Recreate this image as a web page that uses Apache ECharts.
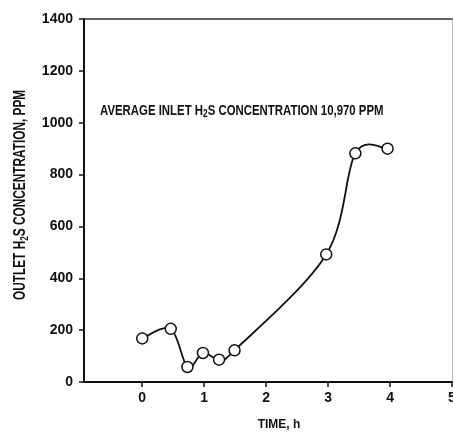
<!DOCTYPE html>
<html>
<head>
<meta charset="utf-8">
<script src="https://cdn.jsdelivr.net/npm/echarts@6/dist/echarts.min.js"></script>
<style>
html,body{margin:0;padding:0;background:#fff;}
#c{width:453px;height:432px;}
</style>
</head>
<body>
<div id="c"></div>
<script>
// Data
var timeH = [0, 0.46, 0.73, 0.98, 1.24, 1.49, 2.97, 3.44, 3.96];
var outletPPM = [168, 205, 58, 112, 86, 122, 492, 882, 900];
var xTicks = [0, 1, 2, 3, 4, 5];
var yTicks = [0, 200, 400, 600, 800, 1000, 1200, 1400];
var yTitle = 'OUTLET H{sub|2}S CONCENTRATION, PPM';
var xTitle = 'TIME, h';
var note = 'AVERAGE INLET H{sub|2}S CONCENTRATION 10,970 PPM';

var FONT = '"Liberation Sans","Arial",sans-serif';
var chart = echarts.init(document.getElementById('c'), null, {renderer: 'canvas'});
var points = timeH.map(function (t, i) { return [t, outletPPM[i]]; });
var subRich = {sub: {fontFamily: FONT, fontSize: 11, fontWeight: 'bold', fill: '#111', color: '#111', padding: [7, 0, 0, 0]}};

// Smooth curve through the data points (Catmull-Rom in pixel space, via the axes' scales)
function renderSegment(params, api) {
  var i = params.dataIndex;
  var n = points.length;
  if (i >= n - 1) return null;
  function c(j) { j = Math.max(0, Math.min(n - 1, j)); return api.coord(points[j]); }
  var p0 = c(i - 1), p1 = c(i), p2 = c(i + 1), p3 = c(i + 2);
  return {
    type: 'bezierCurve',
    shape: {
      x1: p1[0], y1: p1[1], x2: p2[0], y2: p2[1],
      cpx1: p1[0] + (p2[0] - p0[0]) / 6, cpy1: p1[1] + (p2[1] - p0[1]) / 6,
      cpx2: p2[0] - (p3[0] - p1[0]) / 6, cpy2: p2[1] - (p3[1] - p1[1]) / 6
    },
    style: {stroke: '#111', lineWidth: 1.8, fill: null}
  };
}

chart.setOption({
  animation: false,
  backgroundColor: '#fff',
  grid: {left: 84, right: 1, top: 19, bottom: 50, outerBoundsMode: 'none', containLabel: false},
  xAxis: [{
    type: 'value', min: -0.94, max: 5,
    splitLine: {show: false},
    axisLine: {show: true, onZero: false, lineStyle: {color: '#111', width: 2}},
    axisTick: {show: true, inside: false, length: 5, customValues: xTicks, lineStyle: {color: '#111', width: 1.5}},
    axisLabel: {customValues: xTicks, margin: 9, color: '#111', fontFamily: FONT, fontSize: 14, fontWeight: 'bold'},
    name: xTitle, nameLocation: 'middle', nameGap: 37,
    nameTextStyle: {color: '#111', fontFamily: FONT, fontSize: 12, fontWeight: 'bold', padding: [0, 0, 0, 22]}
  }, {
    type: 'value', position: 'top', min: -0.94, max: 5,
    splitLine: {show: false}, axisTick: {show: false}, axisLabel: {show: false},
    axisLine: {show: true, onZero: false, lineStyle: {color: '#333', width: 1.5}}
  }],
  yAxis: [{
    type: 'value', min: 0, max: 1400, interval: 200,
    splitLine: {show: false},
    axisLine: {show: true, onZero: false, lineStyle: {color: '#111', width: 2}},
    axisTick: {show: true, inside: false, length: 5, lineStyle: {color: '#111', width: 1.5}},
    axisLabel: {margin: 11, color: '#111', fontFamily: FONT, fontSize: 14, fontWeight: 'bold',
      formatter: function (v) { return String(v); }}
  }, {
    type: 'value', position: 'right', min: 0, max: 1400,
    splitLine: {show: false}, axisTick: {show: false}, axisLabel: {show: false},
    axisLine: {show: true, onZero: false, lineStyle: {color: '#bbb', width: 1}}
  }],
  graphic: [{
    type: 'text', left: 100, top: 103, scaleX: 0.76,
    style: {text: note, fill: '#111', font: 'bold 15px ' + FONT, rich: subRich}
  }, {
    type: 'text', x: 12, y: 300, rotation: Math.PI / 2, scaleX: 0.74,
    style: {text: yTitle, fill: '#111', font: 'bold 16px ' + FONT, rich: subRich}
  }],
  series: [{
    type: 'custom', data: points, encode: {x: 0, y: 1}, clip: false, z: 2,
    renderItem: renderSegment
  }, {
    type: 'scatter', data: points, z: 3,
    symbol: 'circle', symbolSize: 11,
    itemStyle: {color: '#fff', borderColor: '#111', borderWidth: 1.5, opacity: 1}
  }]
});
</script>
</body>
</html>
